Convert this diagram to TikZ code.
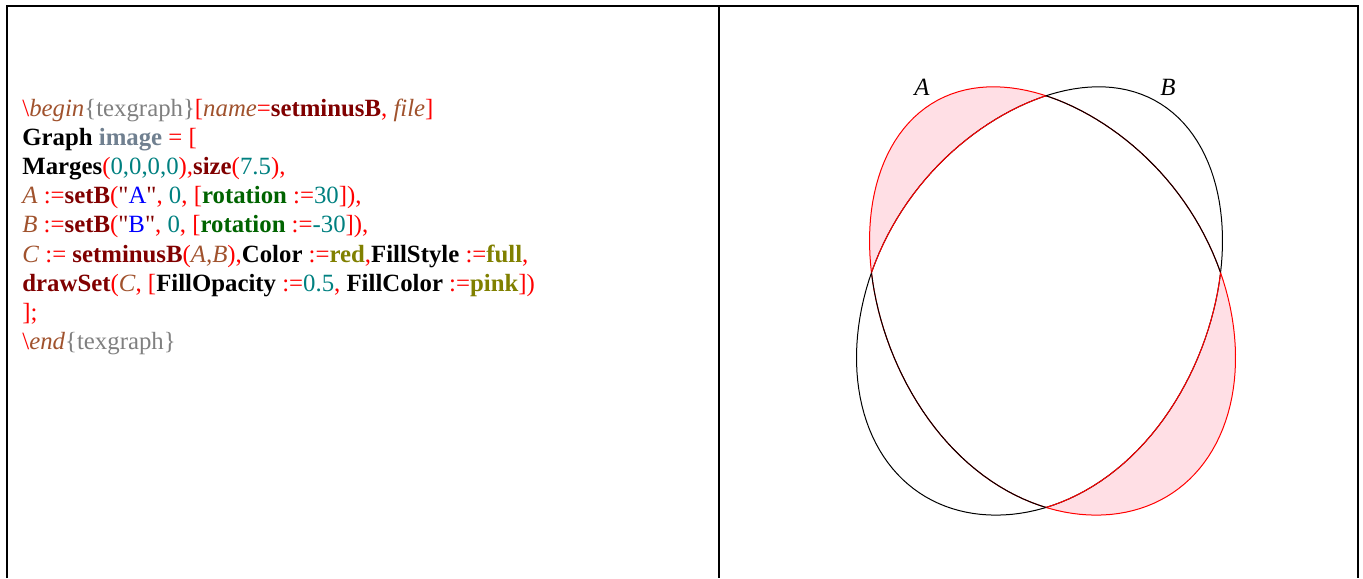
\documentclass[tikz,border=0pt]{standalone}
\usepackage{fontspec}
\setmainfont{Liberation Serif}[Ligatures=TeXOff]

\definecolor{tgred}{RGB}{255,0,0}
\definecolor{tgkey}{RGB}{128,0,0}
\definecolor{tgvar}{RGB}{160,82,45}
\definecolor{tggray}{RGB}{128,128,128}
\definecolor{tgnum}{RGB}{0,128,128}
\definecolor{tgopt}{RGB}{0,100,0}
\definecolor{tgval}{RGB}{128,128,0}
\definecolor{tgslate}{RGB}{112,128,144}
\definecolor{tgstr}{RGB}{0,0,255}
\definecolor{setpink}{RGB}{255,192,203}

\newcommand{\tgop}[1]{\textcolor{tgred}{#1}}
\newcommand{\tgkw}[1]{\textcolor{tgkey}{\textbf{#1}}}
\newcommand{\tgvr}[1]{\textcolor{tgvar}{\textit{#1}}}
\newcommand{\tgnb}[1]{\textcolor{tgnum}{#1}}
\newcommand{\tgopt}[1]{\textcolor{tgopt}{\textbf{#1}}}
\newcommand{\tgval}[1]{\textcolor{tgval}{\textbf{#1}}}
\newcommand{\tgenv}{\textcolor{tggray}{\{texgraph\}}}
\newcommand{\tgstr}[1]{\textcolor{tgkey}{"}\textcolor{tgstr}{#1}\textcolor{tgkey}{"}}

% blob of a set: radius factor, then the two rotated copies (A, and B mirrored at x=1046)
\newcommand{\setrho}{(0.995 - 0.025*((1+cos(\x-37))/2)^10 + 0.035*((1+cos(\x-205))/2)^10 + 0.02*((1+cos(\x-95))/2)^10)}
\newcommand{\setAcurve}{plot[domain=0:360, samples=145]
   ({1053+\setrho*(143.76*cos(\x)-114*sin(\x))}, {300+\setrho*(-83*cos(\x)-197.45*sin(\x))}) -- cycle}
\newcommand{\setBcurve}{plot[domain=0:360, samples=145]
   ({1039-\setrho*(143.76*cos(\x)-114*sin(\x))}, {300+\setrho*(-83*cos(\x)-197.45*sin(\x))}) -- cycle}

\tikzset{
   frame/.style={line width=0.7pt, black},
   setline/.style={line width=0.5pt},
   codefont/.style={font=\fontsize{12.4}{14.6}\selectfont},
   setlabel/.style={font=\fontsize{12.4}{14.6}\selectfont\itshape},
}

\begin{document}
\begin{tikzpicture}[x=0.5pt, y=-0.5pt]
   \useasboundingbox (0,0) rectangle (1363,578);

   \draw[frame] (7,578) -- (7,6) -- (1358,6) -- (1358,578);
   \draw[frame] (719,6) -- (719,578);

   \node[anchor=base west, inner sep=0pt, codefont] (code) at (22,116) {
      \begin{tabular}[t]{@{}l@{}}
      \tgop{\textbackslash}\tgvr{begin}\tgenv\tgop{[}\tgvr{name}\tgop{=}\tgkw{setminusB}\tgop{,} \tgvr{file}\tgop{]} \\
      \textbf{Graph} \textcolor{tgslate}{\textbf{image}} \tgop{= [} \\
      \textbf{Marges}\tgop{(}\tgnb{0,0,0,0}\tgop{),}\tgkw{size}\tgop{(}\tgnb{7.5}\tgop{),} \\
      \tgvr{A} \tgop{:=}\tgkw{setB}\tgop{(}\tgstr{A}\tgop{,} \tgnb{0}\tgop{,} \tgop{[}\tgopt{rotation} \tgop{:=}\tgnb{30}\tgop{]),} \\
      \tgvr{B} \tgop{:=}\tgkw{setB}\tgop{(}\tgstr{B}\tgop{,} \tgnb{0}\tgop{,} \tgop{[}\tgopt{rotation} \tgop{:=}\tgnb{-30}\tgop{]),} \\
      \tgvr{C} \tgop{:=} \tgkw{setminusB}\tgop{(}\tgvr{A,B}\tgop{),}\textbf{Color} \tgop{:=}\tgval{red}\tgop{,}\textbf{FillStyle} \tgop{:=}\tgval{full}\tgop{,} \\
      \tgkw{drawSet}\tgop{(}\tgvr{C}\tgop{,} \tgop{[}\textbf{FillOpacity} \tgop{:=}\tgnb{0.5}\tgop{,} \textbf{FillColor} \tgop{:=}\tgval{pink}\tgop{])} \\
      \tgop{];} \\
      \tgop{\textbackslash}\tgvr{end}\tgenv \\
      \end{tabular}
   };

   % A minus B
   \fill[setpink, fill opacity=0.5] \setAcurve;
   \fill[white] \setBcurve;
   \draw[setline, red] \setAcurve;
   \draw[setline] \setBcurve;
   \begin{scope}
      \clip \setBcurve;
      \draw[setline] \setAcurve;
   \end{scope}
   \begin{scope}
      \clip \setAcurve;
      \draw[setline, red] \setBcurve;
   \end{scope}

   \node[setlabel] (labA) at (922,87) {A};
   \node[setlabel] (labB) at (1168,87) {B};
\end{tikzpicture}
\end{document}
